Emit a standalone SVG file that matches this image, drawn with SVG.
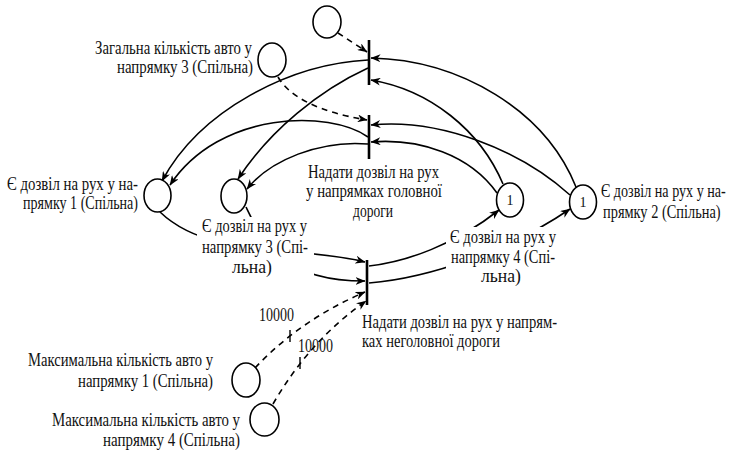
<svg xmlns="http://www.w3.org/2000/svg" width="736" height="451" viewBox="0 0 736 451">
<defs>
<marker id="ah" viewBox="0 0 10 8" markerWidth="10" markerHeight="8" refX="9.5" refY="4" orient="auto" markerUnits="userSpaceOnUse">
<path d="M0,0 L10,4 L0,8 L3,4 Z" fill="#000"/>
</marker>
</defs>
<style>
.bg{fill:#fff}
.pl{fill:#fff;stroke:#000;stroke-width:1.6}
.tr{stroke:#000;stroke-width:2.6}
.arc{fill:none;stroke:#000;stroke-width:1.6;marker-end:url(#ah)}
.inh{fill:none;stroke:#000;stroke-width:1.6;stroke-dasharray:6,5;marker-end:url(#ah)}
.tick{stroke:#000;stroke-width:1.4}
text{font-family:"Liberation Serif","Times New Roman",serif;font-size:18px;fill:#111}
.n{font-size:14px;text-anchor:middle}
</style>
<rect width="736" height="451" class="bg"/>
<g id="connectors">
<path class="inh" d="M338,33 Q352,42 367,52"/>
<path class="inh" d="M278,77 Q296,108 367,120"/>
<path class="inh" d="M255,368 Q300,320 365,292"/>
<path class="inh" d="M273,404 Q310,340 366,301"/>
<line class="tick" x1="290" y1="330" x2="290" y2="342"/>
<line class="tick" x1="300" y1="357" x2="300" y2="369"/>
<path class="arc" d="M368,60 C290,64 200,110 162,181"/>
<path class="arc" d="M368,68 C320,90 270,130 238,179"/>
<path class="arc" d="M368,137 C330,110 220,110 170,185"/>
<path class="arc" d="M368,144 C320,140 270,160 247,189"/>
<path class="arc" d="M576,187 C545,110 460,60 371,58"/>
<path class="arc" d="M503,184 C480,130 430,90 371,80"/>
<path class="arc" d="M570,195 C520,150 440,118 371,125"/>
<path class="arc" d="M497,193 C470,155 420,138 371,142"/>
<path class="arc" d="M160,212 C210,260 300,245 365,262"/>
<path class="arc" d="M246,207 C262,240 280,281 365,281"/>
<path class="arc" d="M369,266 C405,262 455,245 499,210"/>
<path class="arc" d="M369,283 C430,278 510,250 570,209"/>
</g>
<g id="T1"><line class="tr" x1="369" y1="40" x2="369" y2="85"/></g>
<g id="T2"><line class="tr" x1="369" y1="115" x2="369" y2="159"/>
<rect class="bg" x="304" y="162" width="142" height="60"/>
<text x="308" y="178" textLength="131" lengthAdjust="spacingAndGlyphs">Надати дозвіл на рух</text>
<text x="306" y="197" textLength="136" lengthAdjust="spacingAndGlyphs">у напрямках головної</text>
<text x="353" y="217" textLength="40" lengthAdjust="spacingAndGlyphs">дороги</text>
</g>
<g id="T3"><line class="tr" x1="367" y1="260" x2="367" y2="305"/>
<text x="362" y="328" textLength="195" lengthAdjust="spacingAndGlyphs">Надати дозвіл на рух у напрям-</text>
<text x="362" y="347" textLength="138" lengthAdjust="spacingAndGlyphs">ках неголовної дороги</text>
</g>
<g id="Ptop"><ellipse class="pl" cx="327" cy="22" rx="14" ry="16"/></g>
<g id="Pzag"><ellipse class="pl" cx="272" cy="60" rx="14" ry="17"/>
<text x="95" y="54" textLength="157" lengthAdjust="spacingAndGlyphs">Загальна кількість авто у</text>
<text x="117" y="73" textLength="136" lengthAdjust="spacingAndGlyphs">напрямку 3 (Спільна)</text>
</g>
<g id="P1"><ellipse class="pl" cx="157.5" cy="195.5" rx="13.5" ry="16.5"/>
<text x="7" y="190" textLength="131" lengthAdjust="spacingAndGlyphs">Є дозвіл на рух у на-</text>
<text x="23" y="209" textLength="115" lengthAdjust="spacingAndGlyphs">прямку 1 (Спільна)</text>
</g>
<g id="P3"><ellipse class="pl" cx="234" cy="196" rx="13" ry="17"/>
<rect class="bg" x="197" y="217" width="117" height="63"/>
<text x="202" y="232" textLength="105" lengthAdjust="spacingAndGlyphs">Є дозвіл на рух у</text>
<text x="202" y="253" textLength="106" lengthAdjust="spacingAndGlyphs">напрямку 3 (Спі-</text>
<text x="232" y="273" textLength="40" lengthAdjust="spacingAndGlyphs">льна)</text>
</g>
<g id="P4"><ellipse class="pl" cx="510" cy="200" rx="13.5" ry="17"/>
<text class="n" x="510" y="205">1</text>
<rect class="bg" x="446" y="227" width="115" height="60"/>
<text x="450" y="243" textLength="106" lengthAdjust="spacingAndGlyphs">Є дозвіл на рух у</text>
<text x="451" y="263" textLength="104" lengthAdjust="spacingAndGlyphs">напрямку 4 (Спі-</text>
<text x="481" y="282" textLength="40" lengthAdjust="spacingAndGlyphs">льна)</text>
</g>
<g id="P2"><ellipse class="pl" cx="583" cy="202" rx="13.5" ry="17"/>
<text class="n" x="583" y="207">1</text>
<text transform="translate(601,197) scale(0.8,1)" x="0" y="0" textLength="156" lengthAdjust="spacingAndGlyphs">Є дозвіл на рух у на-</text>
<text transform="translate(603,218) scale(0.8,1)" x="0" y="0" textLength="147" lengthAdjust="spacingAndGlyphs">прямку 2 (Спільна)</text>
</g>
<g id="Pmax1"><ellipse class="pl" cx="246" cy="380" rx="14" ry="17"/>
<text x="28" y="366" textLength="185" lengthAdjust="spacingAndGlyphs">Максимальна кількість авто у</text>
<text x="78" y="387" textLength="135" lengthAdjust="spacingAndGlyphs">напрямку 1 (Спільна)</text>
</g>
<g id="Pmax4"><ellipse class="pl" cx="264.5" cy="419.5" rx="14.5" ry="16.5"/>
<text x="52" y="426" textLength="188" lengthAdjust="spacingAndGlyphs">Максимальна кількість авто у</text>
<text x="103" y="446" textLength="137" lengthAdjust="spacingAndGlyphs">напрямку 4 (Спільна)</text>
</g>
<g id="weights">
<text x="259" y="321" textLength="35" lengthAdjust="spacingAndGlyphs">10000</text>
<text x="298" y="352" textLength="35" lengthAdjust="spacingAndGlyphs">10000</text>
</g>
</svg>
